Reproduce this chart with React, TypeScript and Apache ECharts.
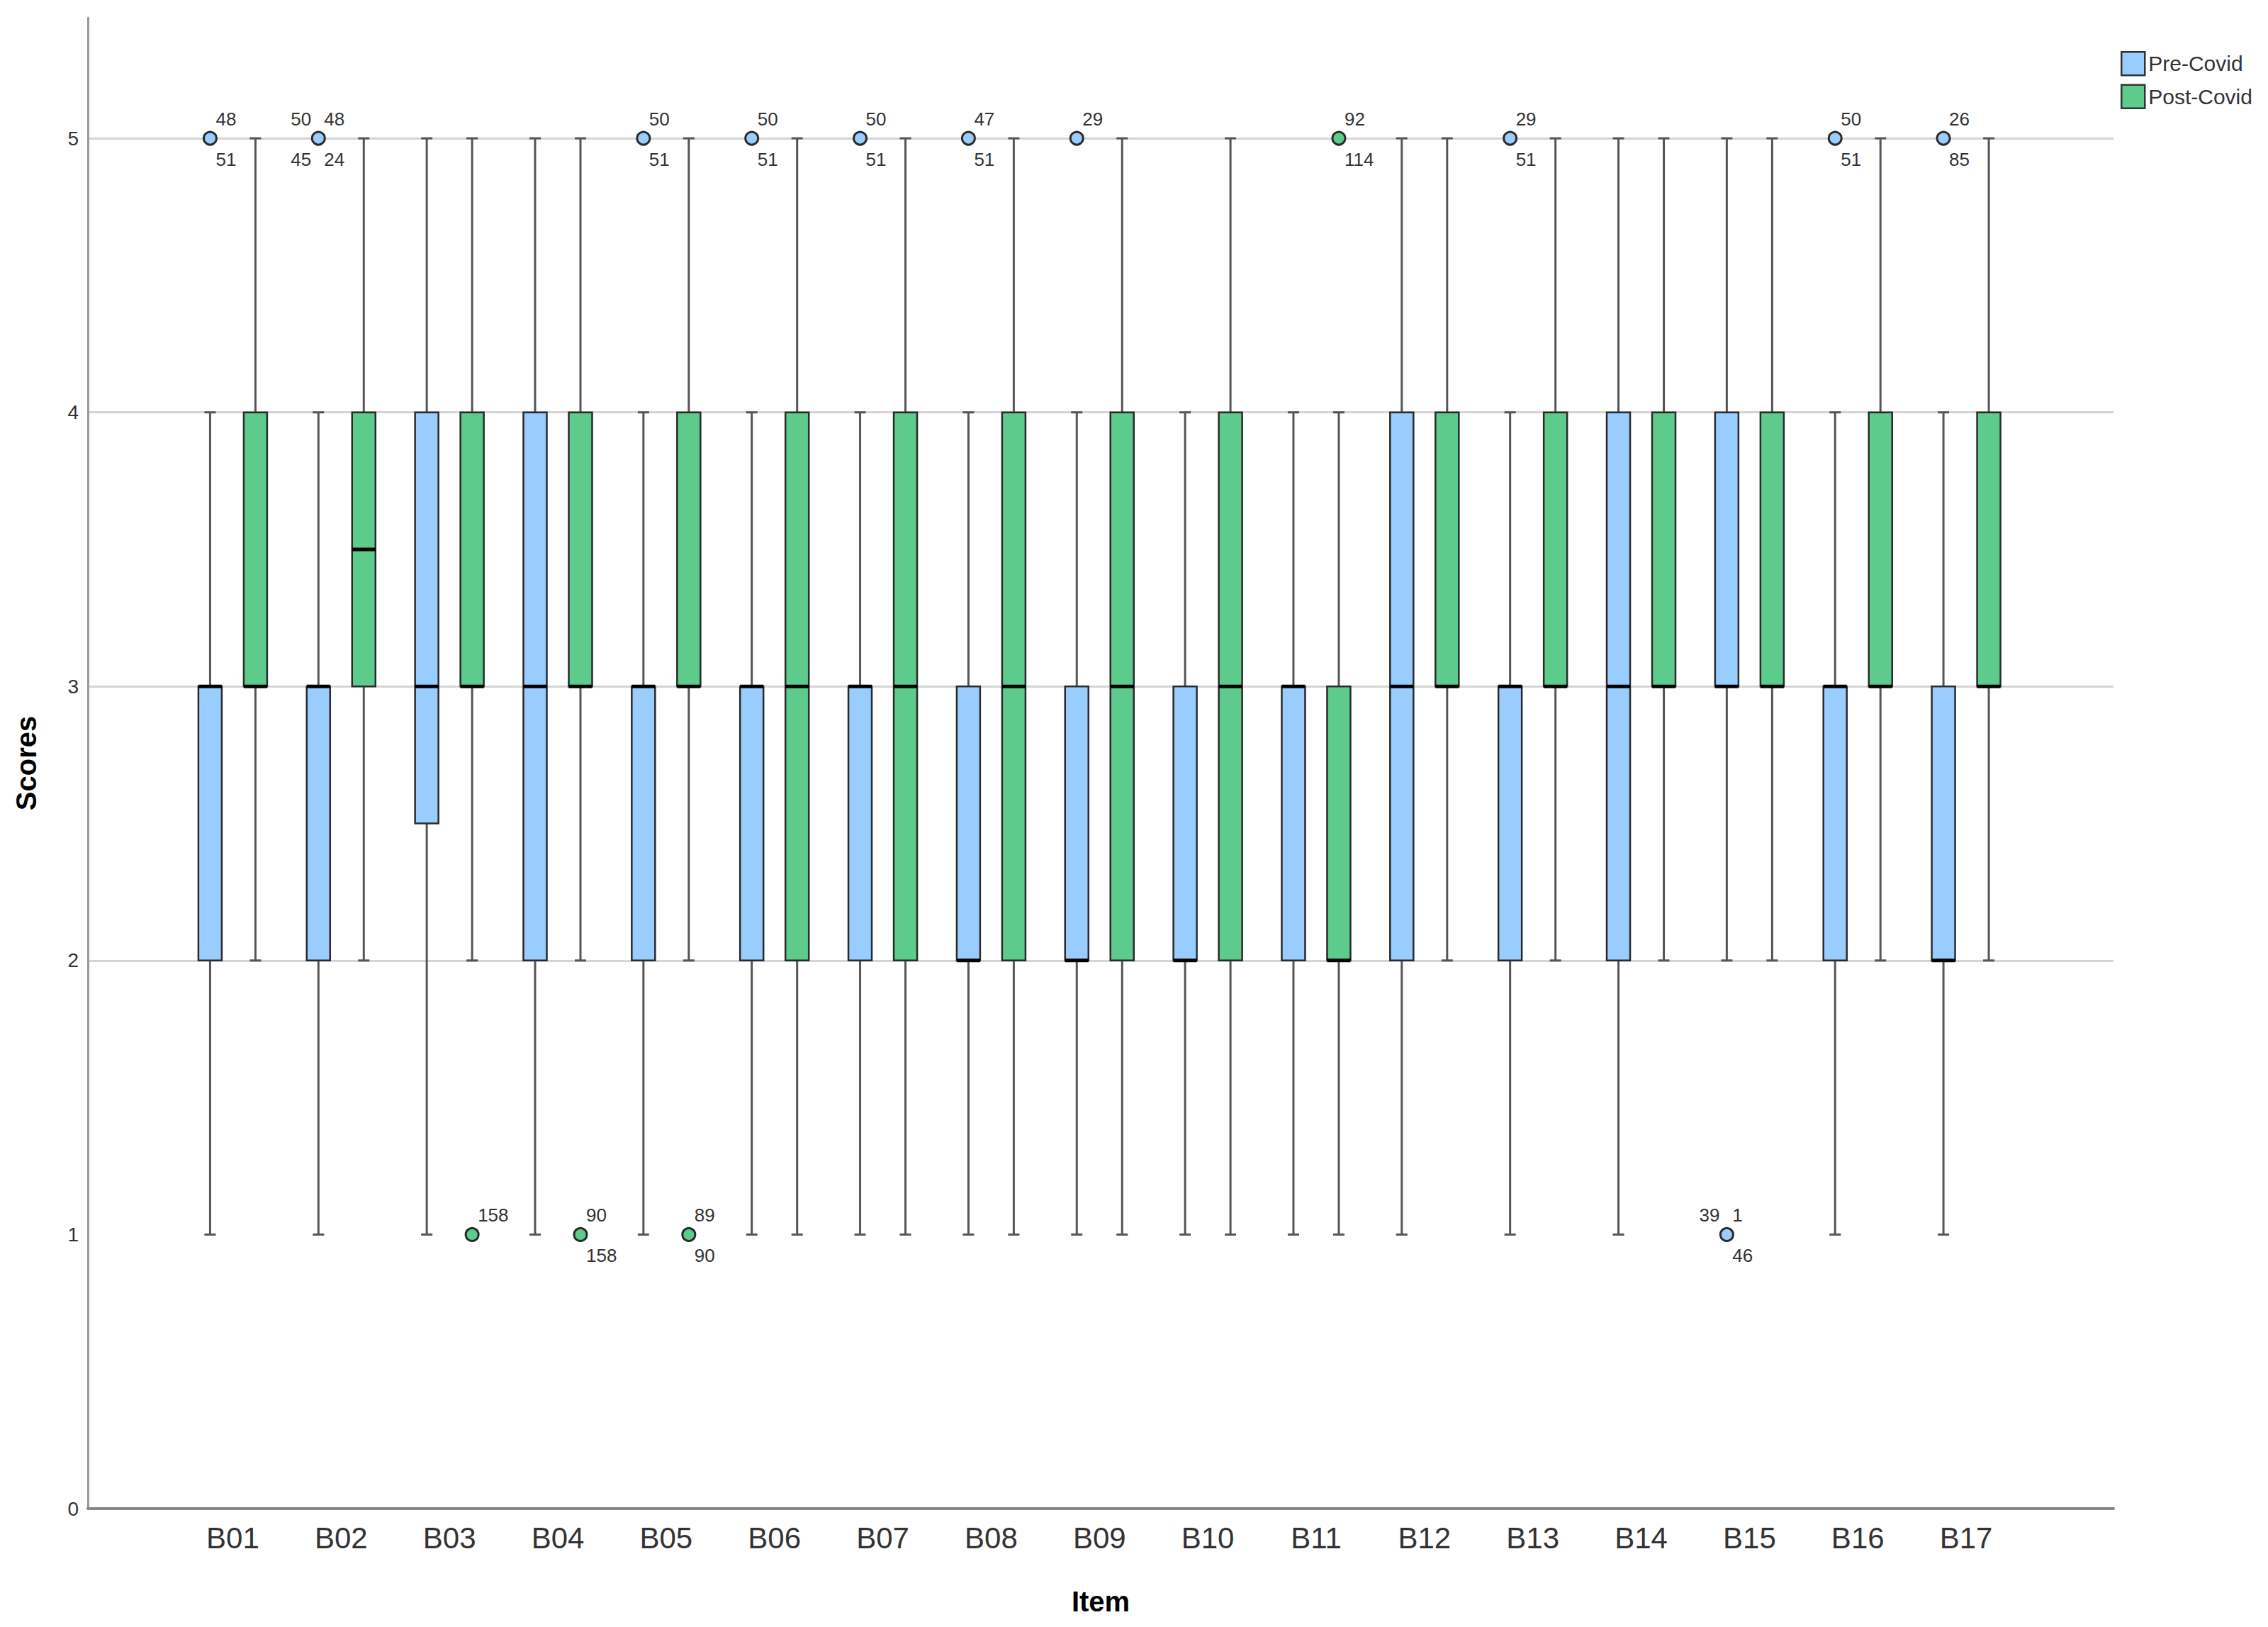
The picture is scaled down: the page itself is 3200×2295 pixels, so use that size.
import React, { useEffect, useRef } from 'react';
import * as echarts from 'echarts';

const categories = ['B01', 'B02', 'B03', 'B04', 'B05', 'B06', 'B07', 'B08', 'B09', 'B10', 'B11', 'B12', 'B13', 'B14', 'B15', 'B16', 'B17'];

// [min whisker, Q1, median, Q3, max whisker]
const preStats = [
  [1, 2, 3, 3, 4], // B01
  [1, 2, 3, 3, 4], // B02
  [1, 2.5, 3, 4, 5], // B03
  [1, 2, 3, 4, 5], // B04
  [1, 2, 3, 3, 4], // B05
  [1, 2, 3, 3, 4], // B06
  [1, 2, 3, 3, 4], // B07
  [1, 2, 2, 3, 4], // B08
  [1, 2, 2, 3, 4], // B09
  [1, 2, 2, 3, 4], // B10
  [1, 2, 3, 3, 4], // B11
  [1, 2, 3, 4, 5], // B12
  [1, 2, 3, 3, 4], // B13
  [1, 2, 3, 4, 5], // B14
  [2, 3, 3, 4, 5], // B15
  [1, 2, 3, 3, 4], // B16
  [1, 2, 2, 3, 4], // B17
];

const postStats = [
  [2, 3, 3, 4, 5], // B01
  [2, 3, 3.5, 4, 5], // B02
  [2, 3, 3, 4, 5], // B03
  [2, 3, 3, 4, 5], // B04
  [2, 3, 3, 4, 5], // B05
  [1, 2, 3, 4, 5], // B06
  [1, 2, 3, 4, 5], // B07
  [1, 2, 3, 4, 5], // B08
  [1, 2, 3, 4, 5], // B09
  [1, 2, 3, 4, 5], // B10
  [1, 2, 2, 3, 4], // B11
  [2, 3, 3, 4, 5], // B12
  [2, 3, 3, 4, 5], // B13
  [2, 3, 3, 4, 5], // B14
  [2, 3, 3, 4, 5], // B15
  [2, 3, 3, 4, 5], // B16
  [2, 3, 3, 4, 5], // B17
];

// outliers: category, value, case labels with corner (ur/lr/ul/ll)
const preOutliers: { cat: string; value: number; labels: [string, string][] }[] = [
  { cat: 'B01', value: 5, labels: [['48', 'ur'], ['51', 'lr']] },
  { cat: 'B02', value: 5, labels: [['50', 'ul'], ['48', 'ur'], ['45', 'll'], ['24', 'lr']] },
  { cat: 'B05', value: 5, labels: [['50', 'ur'], ['51', 'lr']] },
  { cat: 'B06', value: 5, labels: [['50', 'ur'], ['51', 'lr']] },
  { cat: 'B07', value: 5, labels: [['50', 'ur'], ['51', 'lr']] },
  { cat: 'B08', value: 5, labels: [['47', 'ur'], ['51', 'lr']] },
  { cat: 'B09', value: 5, labels: [['29', 'ur']] },
  { cat: 'B13', value: 5, labels: [['29', 'ur'], ['51', 'lr']] },
  { cat: 'B15', value: 1, labels: [['39', 'ul'], ['1', 'ur'], ['46', 'lr']] },
  { cat: 'B16', value: 5, labels: [['50', 'ur'], ['51', 'lr']] },
  { cat: 'B17', value: 5, labels: [['26', 'ur'], ['85', 'lr']] },
];

const postOutliers: { cat: string; value: number; labels: [string, string][] }[] = [
  { cat: 'B03', value: 1, labels: [['158', 'ur']] },
  { cat: 'B04', value: 1, labels: [['90', 'ur'], ['158', 'lr']] },
  { cat: 'B05', value: 1, labels: [['89', 'ur'], ['90', 'lr']] },
  { cat: 'B11', value: 5, labels: [['92', 'ur'], ['114', 'lr']] },
];

const yTicks = [0, 1, 2, 3, 4, 5];
const seriesNames = ['Pre-Covid', 'Post-Covid'];

const PRE_COLOR = '#99ccff';
const POST_COLOR = '#5ccb8b';
const FONT = '"Liberation Sans", Arial, Helvetica, sans-serif';
const BOX_W = 33;
const CAP_W = 16;
const OFFSET = 32;

function boxSeries(name: string, stats: number[][], color: string, offset: number) {
  return {
    type: 'custom',
    name,
    xAxisIndex: 1,
    yAxisIndex: 1,
    silent: true,
    itemStyle: { color },
    encode: { x: 0, y: [1, 2, 3, 4, 5] },
    data: stats.map((s, i) => [i, ...s]),
    renderItem: (params: any, api: any) => {
      const i = api.value(0);
      const pMin = api.coord([i, api.value(1)]);
      const yQ1 = api.coord([i, api.value(2)])[1];
      const yMed = api.coord([i, api.value(3)])[1];
      const yQ3 = api.coord([i, api.value(4)])[1];
      const yMax = api.coord([i, api.value(5)])[1];
      const cx = pMin[0] + offset;
      const yMin = pMin[1];
      const hw = BOX_W / 2;
      const hc = CAP_W / 2;
      const wStyle = { stroke: '#555', lineWidth: 3 };
      return {
        type: 'group',
        children: [
          { type: 'line', shape: { x1: cx, y1: yMin, x2: cx, y2: yQ1 }, style: wStyle },
          { type: 'line', shape: { x1: cx, y1: yQ3, x2: cx, y2: yMax }, style: wStyle },
          { type: 'line', shape: { x1: cx - hc, y1: yMin, x2: cx + hc, y2: yMin }, style: wStyle },
          { type: 'line', shape: { x1: cx - hc, y1: yMax, x2: cx + hc, y2: yMax }, style: wStyle },
          {
            type: 'rect',
            shape: { x: cx - hw, y: yQ3, width: BOX_W, height: yQ1 - yQ3 },
            style: { fill: color, stroke: '#2a2a2a', lineWidth: 2.5 },
          },
          { type: 'line', shape: { x1: cx - hw, y1: yMed, x2: cx + hw, y2: yMed }, style: { stroke: '#000', lineWidth: 5 } },
        ],
      };
    },
  };
}

function outlierSeries(name: string, outs: { cat: string; value: number; labels: [string, string][] }[], color: string, offset: number) {
  return {
    type: 'custom',
    name,
    xAxisIndex: 1,
    yAxisIndex: 1,
    silent: true,
    itemStyle: { color },
    encode: { x: 0, y: 1 },
    data: outs.map((o) => [categories.indexOf(o.cat), o.value]),
    renderItem: (params: any, api: any) => {
      const p = api.coord([api.value(0), api.value(1)]);
      const cx = p[0] + offset;
      const cy = p[1];
      const o = outs[params.dataIndex];
      const children: any[] = [
        { type: 'circle', shape: { cx, cy, r: 9 }, style: { fill: color, stroke: '#2a2a2a', lineWidth: 3 } },
      ];
      o.labels.forEach(([t, pos]) => {
        const right = pos[1] === 'r';
        const up = pos[0] === 'u';
        children.push({
          type: 'text',
          x: right ? cx + 8 : cx - 10,
          y: up ? cy - 27 : cy + 30,
          style: {
            text: t,
            fontSize: 26,
            fontFamily: FONT,
            fill: '#333',
            align: right ? 'left' : 'right',
            verticalAlign: 'middle',
          },
        });
      });
      return { type: 'group', children };
    },
  };
}

export default function App() {
  const ref = useRef<HTMLDivElement>(null);
  useEffect(() => {
    if (!ref.current) return;
    const chart = echarts.init(ref.current, undefined, { renderer: 'svg' });
    chart.setOption({
      animation: false,
      backgroundColor: '#fff',
      textStyle: { fontFamily: FONT },
      legend: {
        orient: 'vertical',
        left: 2987,
        top: 67,
        itemWidth: 33,
        itemHeight: 33,
        itemGap: 11,
        selectedMode: false,
        textStyle: { fontSize: 30, color: '#333', fontFamily: FONT },
        data: [
          { name: seriesNames[0], icon: 'rect', itemStyle: { color: PRE_COLOR, borderColor: '#333', borderWidth: 2.5 } },
          { name: seriesNames[1], icon: 'rect', itemStyle: { color: POST_COLOR, borderColor: '#333', borderWidth: 2.5 } },
        ],
      },
      grid: [
        { left: 124, right: 218, top: 25, bottom: 167 },
        { left: 252, right: 349.5, top: 25, bottom: 167 },
      ],
      xAxis: [
        {
          type: 'value',
          gridIndex: 0,
          min: 0,
          max: 1,
          name: 'Item',
          nameLocation: 'middle',
          nameGap: 111,
          nameTextStyle: { fontSize: 40, fontWeight: 'bold', color: '#000', fontFamily: FONT },
          axisLine: { show: true, onZero: false, lineStyle: { color: '#888', width: 4 } },
          axisTick: { show: false },
          axisLabel: { show: false },
          splitLine: { show: false },
        },
        {
          type: 'category',
          gridIndex: 1,
          data: categories,
          boundaryGap: true,
          axisLine: { show: false },
          axisTick: { show: false },
          axisLabel: { fontSize: 42, color: '#333', margin: 20, fontFamily: FONT },
          splitLine: { show: false },
        },
      ],
      yAxis: [
        {
          type: 'value',
          gridIndex: 0,
          min: yTicks[0],
          max: 5.44,
          interval: 1,
          name: 'Scores',
          nameLocation: 'middle',
          nameGap: 67,
          nameTextStyle: { fontSize: 40, fontWeight: 'bold', color: '#000', fontFamily: FONT },
          axisLine: { show: true, lineStyle: { color: '#999', width: 3 } },
          axisTick: { show: false },
          axisLabel: {
            fontSize: 28,
            color: '#333',
            margin: 13,
            fontFamily: FONT,
            formatter: (v: number) => (yTicks.indexOf(v) >= 0 ? String(v) : ''),
          },
          splitLine: {
            show: true,
            showMinLine: false,
            showMaxLine: false,
            lineStyle: { color: ['transparent', '#d4d4d4', '#d4d4d4', '#d4d4d4', '#d4d4d4', '#d4d4d4', 'transparent'], width: 3 },
          },
        },
        {
          type: 'value',
          gridIndex: 1,
          min: 0,
          max: 5.44,
          show: false,
        },
      ],
      series: [
        boxSeries(seriesNames[0], preStats, PRE_COLOR, -OFFSET),
        boxSeries(seriesNames[1], postStats, POST_COLOR, OFFSET),
        outlierSeries(seriesNames[0], preOutliers, PRE_COLOR, -OFFSET),
        outlierSeries(seriesNames[1], postOutliers, POST_COLOR, OFFSET),
      ],
    });
    return () => chart.dispose();
  }, []);
  return (
    <div
      ref={ref}
      style={{ position: 'fixed', left: 0, top: 0, width: '3200px', height: '2295px', background: '#fff' }}
    />
  );
}
